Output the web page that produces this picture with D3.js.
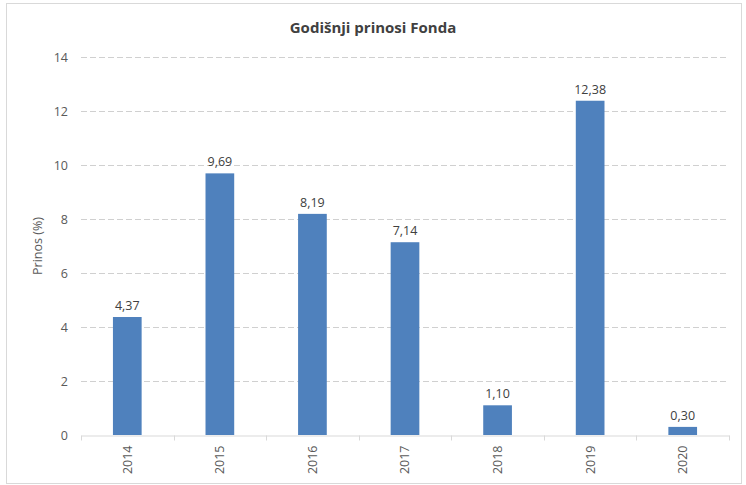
<!DOCTYPE html>
<html>
<head>
<meta charset="utf-8">
<script src="https://cdn.jsdelivr.net/npm/d3@7"></script>
<style>
  body { margin: 0; background: #fff; }
  text { font-family: "Open Sans", "Liberation Sans", sans-serif; }
</style>
</head>
<body>
<svg id="chart" width="746" height="485"></svg>
<script>
const years = ['2014', '2015', '2016', '2017', '2018', '2019', '2020'];
const returns = [4.37, 9.69, 8.19, 7.14, 1.10, 12.38, 0.30];
const yTicks = [0, 2, 4, 6, 8, 10, 12, 14];

const width = 746;
const height = 485;
const margin = { top: 57, right: 17, bottom: 50, left: 81 };

const svg = d3.select('#chart');

svg.append('rect')
  .attr('x', 6.5)
  .attr('y', 3.5)
  .attr('width', 735)
  .attr('height', 480)
  .attr('fill', '#fff')
  .attr('stroke', '#d9d9d9');

const x = d3.scaleBand()
  .domain(years)
  .range([margin.left, width - margin.right])
  .paddingInner(0.69)
  .paddingOuter(0.345);

const y = d3.scaleLinear()
  .domain([0, 14])
  .range([height - margin.bottom, margin.top]);

// gridlines
svg.append('g')
  .selectAll('line')
  .data(yTicks.filter(d => d > 0))
  .enter()
  .append('line')
  .attr('x1', margin.left)
  .attr('x2', width - margin.right)
  .attr('y1', d => Math.round(y(d)) + 0.5)
  .attr('y2', d => Math.round(y(d)) + 0.5)
  .attr('stroke', '#d0d0d0')
  .attr('stroke-dasharray', '6,3');

// y axis labels
const yAxis = d3.axisLeft(y).tickValues(yTicks).tickSize(0).tickPadding(13);
svg.append('g')
  .attr('transform', `translate(${margin.left}, 0)`)
  .call(yAxis)
  .call(g => g.select('.domain').remove())
  .selectAll('text')
  .attr('fill', '#595959')
  .style('font-size', '12.5px');

// bars
svg.append('g')
  .selectAll('rect')
  .data(returns)
  .enter()
  .append('rect')
  .attr('x', (d, i) => x(years[i]))
  .attr('y', d => y(d))
  .attr('width', x.bandwidth())
  .attr('height', d => y(0) - y(d))
  .attr('fill', '#4f81bd');

// value labels
svg.append('g')
  .selectAll('text')
  .data(returns)
  .enter()
  .append('text')
  .attr('x', (d, i) => x(years[i]) + x.bandwidth() / 2)
  .attr('y', d => y(d) - 7)
  .attr('text-anchor', 'middle')
  .attr('fill', '#404040')
  .style('font-size', '12.5px')
  .text(d => d.toFixed(2).replace('.', ','));

// x axis
const xAxis = d3.axisBottom(x).tickSize(0).tickPadding(0);
const xg = svg.append('g')
  .attr('transform', `translate(0, ${Math.round(y(0)) + 0.5})`)
  .call(xAxis);
xg.select('.domain')
  .attr('stroke', '#d9d9d9');
xg.selectAll('.tick text')
  .attr('fill', '#595959')
  .style('font-size', '12.5px')
  .attr('transform', 'rotate(-90)')
  .attr('text-anchor', 'end')
  .attr('dy', '0.35em')
  .attr('x', -10)
  .attr('y', 0);

// category boundary ticks
svg.append('g')
  .selectAll('line')
  .data(d3.range(years.length + 1))
  .enter()
  .append('line')
  .attr('x1', i => Math.round(margin.left + i * x.step()) + 0.5)
  .attr('x2', i => Math.round(margin.left + i * x.step()) + 0.5)
  .attr('y1', Math.round(y(0)) + 0.5)
  .attr('y2', Math.round(y(0)) + 5.5)
  .attr('stroke', '#d9d9d9');

// y axis title
svg.append('text')
  .attr('transform', `translate(42, ${(y(0) + y(14)) / 2}) rotate(-90)`)
  .attr('text-anchor', 'middle')
  .attr('fill', '#595959')
  .style('font-size', '12.5px')
  .text('Prinos (%)');

// chart title
svg.append('text')
  .attr('x', 373)
  .attr('y', 33)
  .attr('text-anchor', 'middle')
  .attr('fill', '#404040')
  .style('font-size', '15px')
  .style('font-weight', 'bold')
  .text('Godišnji prinosi Fonda');
</script>
</body>
</html>
